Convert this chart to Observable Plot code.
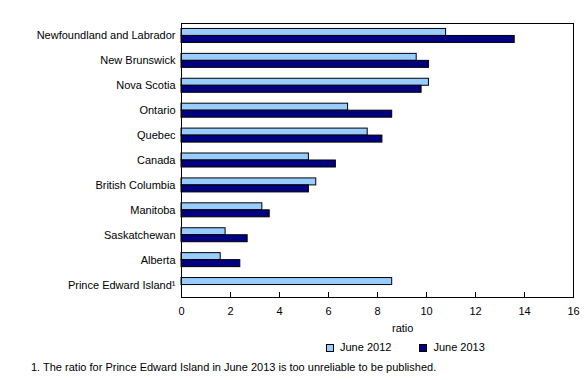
<!DOCTYPE html>
<html>
<head>
<meta charset="utf-8">
<script src="https://cdn.jsdelivr.net/npm/d3@7"></script>
<script src="https://cdn.jsdelivr.net/npm/@observablehq/plot@0.6"></script>
<style>
  body { margin: 0; background: #fff; font-family: "Liberation Sans", Arial, sans-serif; font-size: 11px; color: #000; }
  #wrap { position: relative; width: 588px; height: 380px; }
  .abs { position: absolute; white-space: nowrap; }
  .sw { display: inline-block; width: 6px; height: 6px; border: 1px solid #000; vertical-align: -1px; margin-right: 6px; }
</style>
</head>
<body>
<div id="wrap">
  <div id="chart"></div>
  <div class="abs" id="xlabel" style="left:392px; top:322px;">ratio</div>
  <div class="abs" id="legend" style="left:326px; top:341px;">
    <span class="sw" style="background:#99CCFF"></span>June 2012<span style="display:inline-block;width:28px"></span><span class="sw" style="background:#000080"></span>June 2013
  </div>
  <div class="abs" id="foot" style="left:31px; top:361px;">1. The ratio for Prince Edward Island in June 2013 is too unreliable to be published.</div>
</div>
<script>
const categories = ["Newfoundland and Labrador", "New Brunswick", "Nova Scotia", "Ontario", "Quebec", "Canada", "British Columbia", "Manitoba", "Saskatchewan", "Alberta", "Prince Edward Island¹"];
const june2012 = [10.8, 9.6, 10.1, 6.8, 7.6, 5.2, 5.5, 3.3, 1.8, 1.6, 8.6];
const june2013 = [13.6, 10.1, 9.8, 8.6, 8.2, 6.3, 5.2, 3.6, 2.7, 2.4, null];
const xTicks = [0, 2, 4, 6, 8, 10, 12, 14, 16];
const seriesNames = ["June 2012", "June 2013"];
const seriesColors = ["#99CCFF", "#000080"];

const rows12 = categories.map((c, i) => ({category: c, value: june2012[i]}));
const rows13 = categories.map((c, i) => ({category: c, value: june2013[i]})).filter(d => d.value != null);

const step = 274 / categories.length;
const barH = 7;
const top12 = (step - 2 * barH) / 2;

const chart = Plot.plot({
  width: 588,
  height: 320,
  marginTop: 23,
  marginBottom: 23,
  marginLeft: 181,
  marginRight: 15,
  style: {fontFamily: '"Liberation Sans", Arial, sans-serif', fontSize: "11px", color: "#000", background: "#fff", overflow: "visible"},
  x: {domain: [0, 16]},
  y: {domain: categories, padding: 0, round: false},
  marks: [
    Plot.barX(rows12, {x: "value", y: "category", fill: seriesColors[0], stroke: "black", strokeWidth: 1, insetTop: top12, insetBottom: step - top12 - barH}),
    Plot.barX(rows13, {x: "value", y: "category", fill: seriesColors[1], stroke: "black", strokeWidth: 1, insetTop: top12 + barH, insetBottom: top12}),
    Plot.axisY({tickSize: 0, tickPadding: 6, label: null}),
    Plot.axisX({ticks: xTicks, tickSize: 0, tickPadding: 10, label: null}),
    Plot.axisX({ticks: xTicks, tickSize: -5, text: null, label: null}),
    Plot.frame({stroke: "black"})
  ]
});
document.getElementById("chart").appendChild(chart);
</script>
</body>
</html>
